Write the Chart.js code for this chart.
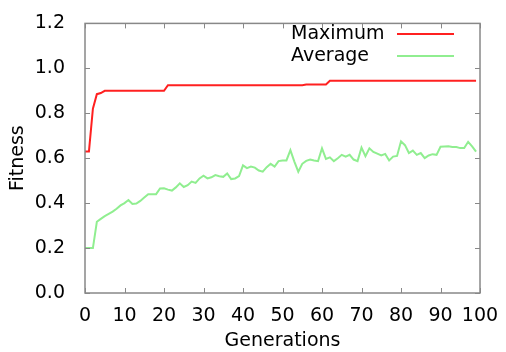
<!DOCTYPE html>
<html>
<head>
<meta charset="utf-8">
<script src="https://cdn.jsdelivr.net/npm/chart.js@4"></script>
<style>
  html, body { margin: 0; padding: 0; background: #fff; }
  #wrap { width: 506px; height: 352px; }
</style>
</head>
<body>
<div id="wrap"><canvas id="myChart" width="506" height="352"></canvas></div>
<script>
const generations = [0,1,2,3,4,5,6,7,8,9,10,11,12,13,14,15,16,17,18,19,
    20,21,22,23,24,25,26,27,28,29,30,31,32,33,34,35,36,37,38,39,
    40,41,42,43,44,45,46,47,48,49,50,51,52,53,54,55,56,57,58,59,
    60,61,62,63,64,65,66,67,68,69,70,71,72,73,74,75,76,77,78,79,
    80,81,82,83,84,85,86,87,88,89,90,91,92,93,94,95,96,97,98,99]

const maximum = [0.63,0.63,0.82,0.885,0.89,0.9,0.9,0.9,0.9,0.9,
    0.9,0.9,0.9,0.9,0.9,0.9,0.9,0.9,0.9,0.9,
    0.9,0.925,0.925,0.925,0.925,0.925,0.925,0.925,0.925,0.925,
    0.925,0.925,0.925,0.925,0.925,0.925,0.925,0.925,0.925,0.925,
    0.925,0.925,0.925,0.925,0.925,0.925,0.925,0.925,0.925,0.925,
    0.925,0.925,0.925,0.925,0.925,0.925,0.928,0.928,0.928,0.928,
    0.928,0.928,0.945,0.945,0.945,0.945,0.945,0.945,0.945,0.945,
    0.945,0.945,0.945,0.945,0.945,0.945,0.945,0.945,0.945,0.945,
    0.945,0.945,0.945,0.945,0.945,0.945,0.945,0.945,0.945,0.945,
    0.945,0.945,0.945,0.945,0.945,0.945,0.945,0.945,0.945,0.945]

const average = [0.2,0.2,0.2,0.317,0.33,0.342,0.352,0.362,0.375,0.39,
    0.4,0.414,0.396,0.398,0.41,0.425,0.44,0.44,0.44,0.465,
    0.466,0.46,0.456,0.47,0.488,0.472,0.48,0.496,0.49,0.51,
    0.522,0.51,0.515,0.525,0.52,0.517,0.532,0.507,0.51,0.52,
    0.568,0.556,0.563,0.558,0.545,0.54,0.56,0.575,0.563,0.587,
    0.59,0.59,0.636,0.585,0.54,0.575,0.588,0.594,0.59,0.587,
    0.644,0.597,0.604,0.587,0.6,0.615,0.607,0.615,0.594,0.587,
    0.647,0.609,0.644,0.628,0.62,0.612,0.619,0.59,0.607,0.61,
    0.675,0.658,0.623,0.634,0.615,0.623,0.6,0.612,0.618,0.615,
    0.651,0.652,0.653,0.65,0.65,0.645,0.645,0.673,0.653,0.629]

const seriesNames = ['Maximum', 'Average']
const seriesColors = ['rgb(255,32,32)', 'rgb(144,238,144)']

const FONT = 'DejaVu Sans'
const GRAY = '#888'

// gnuplot-like frame: box plus inward ticks on all four sides
const framePlugin = {
    id: 'frame',
    afterDraw(chart) {
        const {ctx, chartArea: a, scales} = chart
        ctx.save()
        ctx.strokeStyle = GRAY
        ctx.lineWidth = 1.5
        ctx.strokeRect(a.left, a.top, a.right - a.left, a.bottom - a.top)
        ctx.lineWidth = 1
        const tl = 5
        ctx.beginPath()
        scales.x.ticks.forEach(t => {
            const px = Math.round(scales.x.getPixelForValue(t.value)) + 0.5
            ctx.moveTo(px, a.bottom); ctx.lineTo(px, a.bottom - tl)
            ctx.moveTo(px, a.top); ctx.lineTo(px, a.top + tl)
        })
        scales.y.ticks.forEach(t => {
            const py = Math.round(scales.y.getPixelForValue(t.value)) + 0.5
            ctx.moveTo(a.left, py); ctx.lineTo(a.left + tl, py)
            ctx.moveTo(a.right, py); ctx.lineTo(a.right - tl, py)
        })
        ctx.stroke()

        // key: text first, then line sample
        ctx.font = `19px "${FONT}"`
        ctx.textBaseline = 'middle'
        ctx.textAlign = 'left'
        chart.data.datasets.forEach((ds, i) => {
            const y = 34 + i * 22
            ctx.fillStyle = '#000'
            ctx.fillText(ds.label, 291, y)
            ctx.strokeStyle = ds.borderColor
            ctx.lineWidth = 2
            ctx.beginPath()
            ctx.moveTo(397, y); ctx.lineTo(454, y)
            ctx.stroke()
        })
        ctx.restore()
    }
}

const ctx = document.getElementById('myChart')
new Chart(ctx, {
    type: 'line',
    data: {
        datasets: [
            {
                label: seriesNames[0],
                data: generations.map((g, i) => ({x: g, y: maximum[i]})),
                borderColor: seriesColors[0],
                borderWidth: 2,
                pointRadius: 0,
                tension: 0
            },
            {
                label: seriesNames[1],
                data: generations.map((g, i) => ({x: g, y: average[i]})),
                borderColor: seriesColors[1],
                borderWidth: 2,
                pointRadius: 0,
                tension: 0
            }
        ]
    },
    options: {
        responsive: false,
        animation: false,
        layout: { padding: { left: 0, top: 19, right: 26, bottom: 0 } },
        plugins: { legend: { display: false }, tooltip: { enabled: false } },
        scales: {
            x: {
                type: 'linear',
                min: 0,
                max: 100,
                grid: { display: false },
                border: { display: false },
                ticks: { stepSize: 10, padding: 4, maxRotation: 0, color: '#000', font: { family: FONT, size: 19 } },
                title: { display: true, text: 'Generations', color: '#000', font: { family: FONT, size: 19 }, padding: { top: 0, bottom: 0 } },
                afterFit: s => { s.height = 59 }
            },
            y: {
                min: 0,
                max: 1.2,
                grid: { display: false },
                border: { display: false },
                ticks: { stepSize: 0.2, padding: 12, color: '#000', font: { family: FONT, size: 19 }, callback: v => v.toFixed(1) },
                title: { display: true, text: 'Fitness', color: '#000', font: { family: FONT, size: 19 }, padding: { top: 7, bottom: 0 } },
                afterFit: s => { s.width = 85 }
            }
        }
    },
    plugins: [framePlugin]
})
</script>
</body>
</html>
